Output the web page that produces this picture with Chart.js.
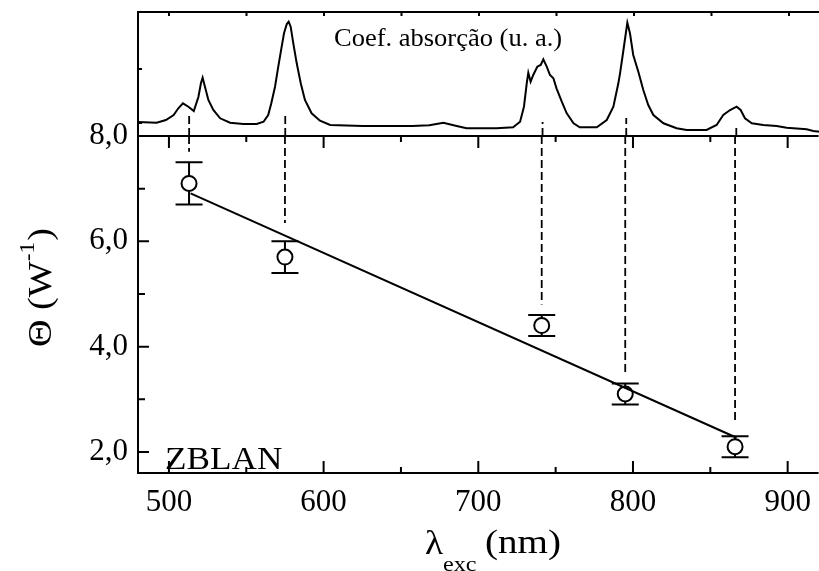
<!DOCTYPE html>
<html>
<head>
<meta charset="utf-8">
<script src="https://cdn.jsdelivr.net/npm/chart.js@4.4.0/dist/chart.umd.min.js"></script>
<style>
  html, body { margin: 0; padding: 0; background: #fff; overflow: hidden; }
  #wrap { position: relative; width: 822px; height: 571px; }
  #wrap canvas { position: absolute; left: 0; top: 0; }
</style>
</head>
<body>
<div id="wrap">
  <canvas id="spectrum" width="822" height="571"></canvas>
  <canvas id="theta" width="822" height="571"></canvas>
</div>
<script>
// absorption spectrum, top panel (arbitrary units)
const specNm = [480, 492, 498, 503, 506, 509, 512.5, 516, 519, 520.6, 521.7, 523.2, 525.4, 528.6, 533,
  539.4, 548, 556.6, 561, 564, 566, 568.4, 570.5, 572.7, 574.2, 576, 577.2, 578.5, 580.2, 582.4,
  585, 587.7, 592, 597.4, 604, 625, 636, 657, 668, 677, 685.6, 692, 711.4, 722, 726.5, 729,
  730.8, 731.8, 733.3, 735, 737.6, 739.8, 741.5, 743.7, 745.8, 748, 750, 753.4, 756.6, 761,
  765, 776, 782.4, 786.7, 789.9, 791, 793.1, 795.7, 797.4, 799.5, 802.8, 806, 809.2, 812.5,
  819, 827.5, 834, 846.8, 853.3, 857.6, 862, 866.2, 868.8, 871.6, 876, 883.4, 892, 898.5,
  911.4, 915.7, 920];
const specAbs = [14, 13.3, 16, 21, 27.7, 32.7, 29.3, 25, 39.3, 52.7, 58.3, 49.3, 36, 26, 17.7,
  13.3, 12, 12, 14.3, 21, 32.7, 49.3, 69.3, 89.3, 102.7, 112, 114.3, 109.3, 92.7, 72.7,
  52.7, 36, 22.7, 15.3, 11, 10, 10, 10, 10.7, 13.3, 10, 7.7, 7.7, 8.7, 14.3, 29.3,
  52.7, 63.3, 54.3, 61, 69.3, 71, 76.7, 69.3, 61, 57.7, 47.7, 34.3, 22.7, 12.7,
  8.7, 8.7, 16, 29.3, 52.7, 62.7, 85, 113.3, 102.7, 81, 64.3, 46, 31, 21,
  12.7, 7.7, 6, 6, 11, 21, 26, 29.3, 26, 17.7, 12.7, 11, 10, 8.3,
  6.7, 5, 4.3];

// Theta vs excitation wavelength
const excNm = [513, 575, 741, 795, 866];
const thetaVals = [7.1, 5.7, 4.4, 3.1, 2.1];
const thetaErr = [0.4, 0.3, 0.2, 0.2, 0.2];

// linear fit end points
const fitNm = [514, 867];
const fitTheta = [6.91, 2.27];

// dashed guides: lower end in the Theta panel, upper end in the spectrum panel
const guideLow = [7.7, 6.35, 4.8, 3.45, 2.55];
const guideTop = [21, 21, 14, 18, 9];

const xMajor = [500, 600, 700, 800, 900];
const xMinor = [550, 650, 750, 850];
const yMajor = [2, 4, 6, 8];
const yMinor = [3, 5, 7];
const specTicks = [13, 67];

const SERIF = "'Liberation Serif', 'Times New Roman', serif";

function wideText(ctx, str, x, y, sx) {
  ctx.save();
  ctx.translate(x, y);
  ctx.scale(sx, 1);
  ctx.fillText(str, 0, 0);
  ctx.restore();
}

const frameTop = {
  id: 'frameTop',
  afterDraw(chart) {
    const { ctx, chartArea: a, scales: { x, y } } = chart;
    ctx.save();
    ctx.strokeStyle = '#000';
    ctx.lineWidth = 2;
    ctx.beginPath();
    ctx.moveTo(a.left, a.bottom);
    ctx.lineTo(a.left, a.top);
    ctx.lineTo(a.right, a.top);
    xMajor.concat(xMinor).forEach(v => {
      const px = x.getPixelForValue(v);
      ctx.moveTo(px, a.top);
      ctx.lineTo(px, a.top + 4);
    });
    specTicks.forEach(v => {
      const py = y.getPixelForValue(v);
      ctx.moveTo(a.left, py);
      ctx.lineTo(a.left + 4, py);
    });
    ctx.stroke();

    ctx.fillStyle = '#000';
    ctx.font = '25px ' + SERIF;
    ctx.textBaseline = 'alphabetic';
    wideText(ctx, 'Coef. absorção (u. a.)', 334, 46, 1.06);
    ctx.restore();
  }
};

const frameBottom = {
  id: 'frameBottom',
  beforeDatasetsDraw(chart) {
    // error bars under the open circles
    const { ctx, scales: { x, y } } = chart;
    ctx.save();
    ctx.strokeStyle = '#000';
    ctx.lineWidth = 2;
    ctx.beginPath();
    excNm.forEach((nm, i) => {
      const px = x.getPixelForValue(nm);
      const hi = y.getPixelForValue(thetaVals[i] + thetaErr[i]);
      const lo = y.getPixelForValue(thetaVals[i] - thetaErr[i]);
      ctx.moveTo(px, hi); ctx.lineTo(px, lo);
      ctx.moveTo(px - 13.5, hi); ctx.lineTo(px + 13.5, hi);
      ctx.moveTo(px - 13.5, lo); ctx.lineTo(px + 13.5, lo);
    });
    ctx.stroke();
    ctx.restore();
  },
  afterDraw(chart) {
    const { ctx, chartArea: a, scales: { x, y } } = chart;
    ctx.save();
    ctx.strokeStyle = '#000';
    ctx.lineWidth = 2;
    ctx.beginPath();
    ctx.moveTo(a.right, a.top);
    ctx.lineTo(a.left, a.top);
    ctx.lineTo(a.left, a.bottom);
    ctx.lineTo(a.right, a.bottom);
    const xt = (v, len) => {
      const px = x.getPixelForValue(v);
      ctx.moveTo(px, a.bottom); ctx.lineTo(px, a.bottom - len);
      ctx.moveTo(px, a.top); ctx.lineTo(px, a.top + len);
    };
    xMajor.forEach(v => xt(v, 12));
    xMinor.forEach(v => xt(v, 6));
    const yt = (v, len) => {
      const py = y.getPixelForValue(v);
      ctx.moveTo(a.left, py); ctx.lineTo(a.left + len, py);
    };
    yMajor.forEach(v => yt(v, 11));
    yMinor.forEach(v => yt(v, 7));
    ctx.stroke();

    // axis titles and sample label
    ctx.fillStyle = '#000';
    ctx.textBaseline = 'alphabetic';
    ctx.font = '34px ' + SERIF;
    wideText(ctx, 'λ', 425, 554, 1.1);
    wideText(ctx, '(nm)', 485, 553, 1.15);
    ctx.font = '21px ' + SERIF;
    wideText(ctx, 'exc', 443, 571, 1.15);

    ctx.font = '32px ' + SERIF;
    wideText(ctx, 'ZBLAN', 165, 469, 1.1);

    // rotated y title: Θ (W-1)
    ctx.save();
    ctx.translate(51, 347);
    ctx.rotate(-Math.PI / 2);
    ctx.scale(1.12, 1);
    ctx.font = '34px ' + SERIF;
    let cx = 0;
    ctx.fillText('Θ (W', cx, 0);
    cx += ctx.measureText('Θ (W').width;
    ctx.font = '21px ' + SERIF;
    ctx.fillText('-1', cx, -17);
    cx += ctx.measureText('-1').width;
    ctx.font = '34px ' + SERIF;
    ctx.fillText(')', cx + 1, 0);
    ctx.restore();
    ctx.restore();
  }
};

const specGuides = [];
excNm.forEach((nm, i) => {
  specGuides.push({ x: nm, y: 0 }, { x: nm, y: guideTop[i] }, { x: nm, y: null });
});

new Chart(document.getElementById('spectrum'), {
  type: 'line',
  data: {
    datasets: [
      {
        data: specNm.map((nm, i) => ({ x: nm, y: specAbs[i] })),
        borderColor: '#000',
        borderWidth: 2,
        pointRadius: 0,
        tension: 0
      },
      {
        data: specGuides,
        borderColor: '#000',
        borderWidth: 1.8,
        borderDash: [8, 4],
        pointRadius: 0,
        spanGaps: false
      }
    ]
  },
  options: {
    responsive: false,
    animation: false,
    events: [],
    layout: { autoPadding: false, padding: { left: 138, top: 12, right: 2, bottom: 435 } },
    plugins: { legend: { display: false }, tooltip: { enabled: false } },
    scales: {
      x: { type: 'linear', min: 480, max: 920, display: false },
      y: { min: 0, max: 124, display: false }
    }
  },
  plugins: [frameTop]
});

const lowGuides = [];
excNm.forEach((nm, i) => {
  lowGuides.push({ x: nm, y: 8 }, { x: nm, y: guideLow[i] }, { x: nm, y: null });
});

new Chart(document.getElementById('theta'), {
  type: 'line',
  data: {
    datasets: [
      {
        data: fitNm.map((nm, i) => ({ x: nm, y: fitTheta[i] })),
        borderColor: '#000',
        borderWidth: 2,
        pointRadius: 0
      },
      {
        data: lowGuides,
        borderColor: '#000',
        borderWidth: 1.8,
        borderDash: [8, 4],
        pointRadius: 0,
        spanGaps: false
      },
      {
        data: excNm.map((nm, i) => ({ x: nm, y: thetaVals[i] })),
        showLine: false,
        pointRadius: 7.5,
        pointBorderWidth: 2,
        pointBorderColor: '#000',
        pointBackgroundColor: '#fff'
      }
    ]
  },
  options: {
    responsive: false,
    animation: false,
    events: [],
    layout: { autoPadding: false, padding: { left: 0, top: 136, right: 2, bottom: 0 } },
    plugins: { legend: { display: false }, tooltip: { enabled: false } },
    scales: {
      x: {
        type: 'linear', min: 480, max: 920, position: 'bottom',
        grid: { display: false, drawTicks: false },
        border: { display: false },
        afterBuildTicks: axis => { axis.ticks = xMajor.map(v => ({ value: v })); },
        afterFit: axis => { axis.height = 98; },
        ticks: { color: '#000', padding: 11, maxRotation: 0, font: { family: SERIF, size: 31 } }
      },
      y: {
        min: 1.6, max: 8.0,
        grid: { display: false, drawTicks: false },
        border: { display: false },
        afterBuildTicks: axis => { axis.ticks = yMajor.map(v => ({ value: v })); },
        afterFit: axis => { axis.width = 138; },
        ticks: {
          color: '#000', padding: 10, font: { family: SERIF, size: 31 },
          callback: v => v.toFixed(1).replace('.', ',')
        }
      }
    }
  },
  plugins: [frameBottom]
});
</script>
</body>
</html>
